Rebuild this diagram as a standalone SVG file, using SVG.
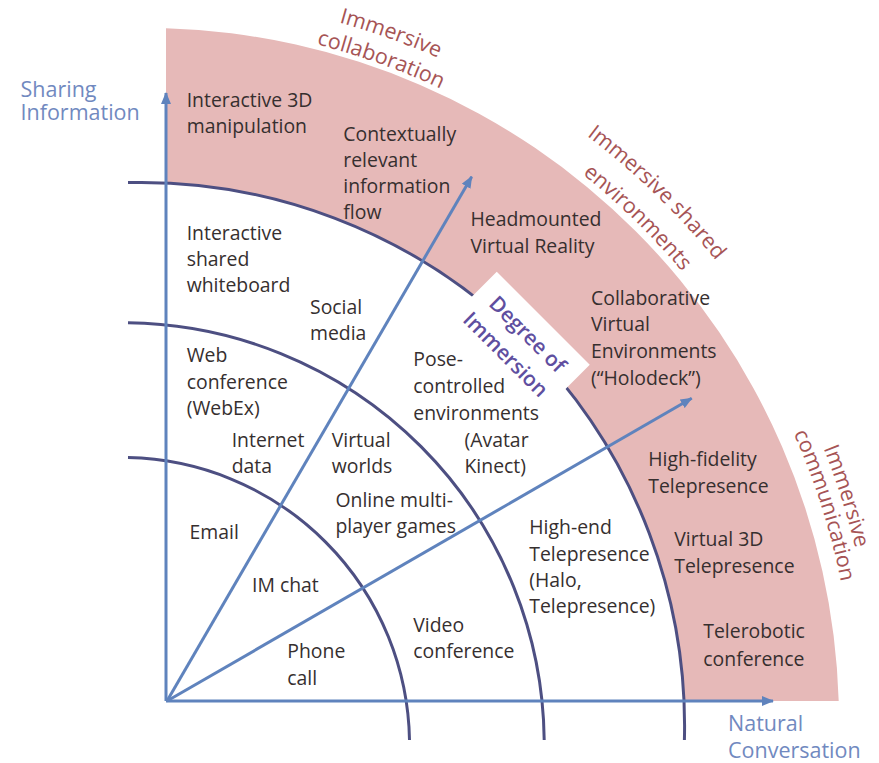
<svg xmlns="http://www.w3.org/2000/svg" xmlns:xlink="http://www.w3.org/1999/xlink" width="879" height="763" viewBox="0 0 879 763">
  <defs>
    <style>
      .t { font-family: "Open Sans", "Liberation Sans", sans-serif; font-size: 19.4px; fill: #362f2f; }
      .band { font-family: "Open Sans", "Liberation Sans", sans-serif; font-size: 21.5px; fill: #a65455; }
      .axlab { font-family: "Open Sans", "Liberation Sans", sans-serif; font-size: 21.5px; fill: #7189bf; }
      .deg { font-family: "Open Sans", "Liberation Sans", sans-serif; font-size: 21px; font-weight: 600; fill: #5f4f9f; }
      .ring { fill: none; stroke: #4d4f82; stroke-width: 3; }
      .axis { fill: none; stroke: #5f83bd; stroke-width: 3; }
    </style>
    <marker id="head" viewBox="0 0 12 10" refX="11" refY="5" markerWidth="12" markerHeight="10" markerUnits="userSpaceOnUse" orient="auto">
      <path d="M0,0 L12,5 L0,10 Z" fill="#5f83bd"/>
    </marker>
    <!-- baselines for the curved band captions, arcs around (145,722) -->
    <path id="capA" d="M339.0,22.4 A726,726 0 0 1 611.7,165.9"/>
    <path id="capB" d="M316.5,44.4 A699,699 0 0 1 594.3,186.6"/>
    <path id="capC" d="M586.7,135.8 A734,734 0 0 1 780.7,355"/>
    <path id="capD" d="M582.4,174.2 A701,701 0 0 1 752.1,371.5"/>
    <path id="capE" d="M823.4,448.2 A731,731 0 0 1 875.9,709.2"/>
    <path id="capF" d="M793.6,433.2 A710,710 0 0 1 854.9,709.6"/>
  </defs>

  <rect width="879" height="763" fill="#ffffff"/>

  <!-- outer immersive band -->
  <path id="band" d="M166,28.3 A694,694 0 0 1 838.7,701 L684,701 A543.6,543.6 0 0 0 166,183 Z" fill="#e6b9b8"/>

  <!-- concentric boundaries -->
  <g id="rings">
    <path class="ring" d="M128,457.6 A287.5,287.5 0 0 1 409.5,740"/>
    <path class="ring" d="M128,322.8 A421.7,421.7 0 0 1 544.2,740"/>
    <path class="ring" d="M128,182.6 A543.6,543.6 0 0 1 684.4,740"/>
  </g>

  <!-- Degree of Immersion label box -->
  <g id="degree">
    <rect x="464.25" y="312.75" width="131.5" height="37.5" fill="#ffffff" transform="rotate(45 530 331.5)"/>
    <text class="deg" text-anchor="middle" transform="translate(522.5 339.5) rotate(45)">Degree of</text>
    <text class="deg" text-anchor="middle" transform="translate(500.5 359.5) rotate(45)">Immersion</text>
  </g>

  <!-- axes and direction arrows -->
  <g id="connectors">
    <line class="axis" x1="166" y1="701" x2="166" y2="93" marker-end="url(#head)"/>
    <line class="axis" x1="166" y1="701" x2="773" y2="701" marker-end="url(#head)"/>
    <line class="axis" x1="167" y1="701" x2="471.7" y2="176.7" marker-end="url(#head)"/>
    <line class="axis" x1="167" y1="701" x2="691.7" y2="398.3" marker-end="url(#head)"/>
  </g>

  <!-- axis captions -->
  <g id="axis-y"><text class="axlab" x="20.5" y="97">Sharing</text><text class="axlab" x="20.5" y="120">Information</text></g>
  <g id="axis-x"><text class="axlab" x="728" y="731">Natural</text><text class="axlab" x="728" y="757.5">Conversation</text></g>

  <!-- band captions -->
  <g id="cap-collab">
    <text class="band"><textPath href="#capA" xlink:href="#capA">Immersive</textPath></text>
    <text class="band"><textPath href="#capB" xlink:href="#capB">collaboration</textPath></text>
  </g>
  <g id="cap-shared">
    <text class="band"><textPath href="#capC" xlink:href="#capC">Immersive shared</textPath></text>
    <text class="band"><textPath href="#capD" xlink:href="#capD">environments</textPath></text>
  </g>
  <g id="cap-comm">
    <text class="band"><textPath href="#capE" xlink:href="#capE">Immersive</textPath></text>
    <text class="band"><textPath href="#capF" xlink:href="#capF">communication</textPath></text>
  </g>

  <!-- technologies -->
  <g id="n-3d"><text class="t" x="186.7" y="106.7">Interactive 3D</text><text class="t" x="186.7" y="132.7">manipulation</text></g>
  <g id="n-context"><text class="t" x="343.3" y="141">Contextually</text><text class="t" x="343.3" y="167">relevant</text><text class="t" x="343.3" y="193">information</text><text class="t" x="343.3" y="219">flow</text></g>
  <g id="n-hmd"><text class="t" x="470.5" y="226">Headmounted</text><text class="t" x="470.5" y="252.5">Virtual Reality</text></g>
  <g id="n-cve"><text class="t" x="591" y="305">Collaborative</text><text class="t" x="591" y="331">Virtual</text><text class="t" x="591" y="358">Environments</text><text class="t" x="591" y="384.5">(“Holodeck”)</text></g>
  <g id="n-hifi"><text class="t" x="648.3" y="466">High-fidelity</text><text class="t" x="648.3" y="492.5">Telepresence</text></g>
  <g id="n-v3d"><text class="t" x="674.3" y="546">Virtual 3D</text><text class="t" x="674.3" y="572.5">Telepresence</text></g>
  <g id="n-robot"><text class="t" x="703.3" y="638.3">Telerobotic</text><text class="t" x="703.3" y="665.5">conference</text></g>

  <g id="n-whiteboard"><text class="t" x="186.7" y="240">Interactive</text><text class="t" x="186.7" y="266">shared</text><text class="t" x="186.7" y="292">whiteboard</text></g>
  <g id="n-social"><text class="t" x="310" y="314">Social</text><text class="t" x="310" y="340">media</text></g>
  <g id="n-webconf"><text class="t" x="186.7" y="362">Web</text><text class="t" x="186.7" y="388.5">conference</text><text class="t" x="186.7" y="414.5">(WebEx)</text></g>
  <g id="n-internet"><text class="t" x="231.7" y="447">Internet</text><text class="t" x="231.7" y="473">data</text></g>
  <g id="n-worlds"><text class="t" x="331.7" y="447">Virtual</text><text class="t" x="331.7" y="473">worlds</text></g>
  <g id="n-games"><text class="t" x="335.5" y="507">Online multi-</text><text class="t" x="335.5" y="533.3">player games</text></g>
  <g id="n-pose"><text class="t" x="413.3" y="366">Pose-</text><text class="t" x="413.3" y="392.7">controlled</text><text class="t" x="413.3" y="419.5">environments</text><text class="t" x="464.5" y="446.7">(Avatar</text><text class="t" x="464.5" y="473">Kinect)</text></g>
  <g id="n-email"><text class="t" x="189.5" y="539">Email</text></g>
  <g id="n-im"><text class="t" x="252" y="592">IM chat</text></g>
  <g id="n-phone"><text class="t" x="287.3" y="658.3">Phone</text><text class="t" x="287.3" y="684.5">call</text></g>
  <g id="n-video"><text class="t" x="413.3" y="631.7">Video</text><text class="t" x="413.3" y="658.3">conference</text></g>
  <g id="n-highend"><text class="t" x="529.3" y="534">High-end</text><text class="t" x="529.3" y="560.5">Telepresence</text><text class="t" x="529.3" y="587">(Halo,</text><text class="t" x="529.3" y="613.3">Telepresence)</text></g>
</svg>
